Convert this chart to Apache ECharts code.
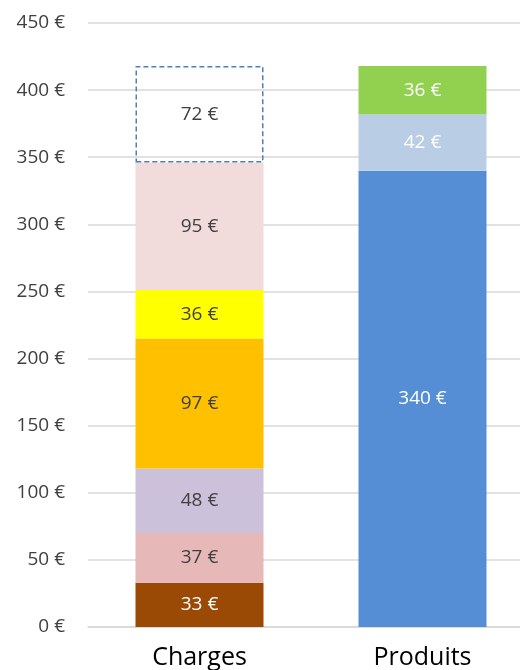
<!DOCTYPE html>
<html>
<head>
<meta charset="utf-8">
<script src="https://cdn.jsdelivr.net/npm/echarts@6/dist/echarts.min.js"></script>
<style>html,body{margin:0;padding:0;background:#fff}#c{width:520px;height:670px}</style>
</head>
<body>
<div id="c"></div>
<script>
const categories = ['Charges', 'Produits'];
const yTicks = [0, 50, 100, 150, 200, 250, 300, 350, 400, 450];
const chargesValues = [33, 37, 48, 97, 36, 95, 72];
const chargesColors = ['#9B4A06', '#E6B9B8', '#CCC1DA', '#FFC000', '#FFFF00', '#F2DCDB', 'rgba(255,255,255,0)'];
const chargesLabelColors = ['#ffffff', '#404040', '#404040', '#404040', '#404040', '#404040', '#404040'];
const produitsValues = [340, 42, 36];
const produitsColors = ['#558ED5', '#B9CDE5', '#92D050'];

const font = "'Open Sans', 'Liberation Sans', sans-serif";
const series = [];
chargesValues.forEach((v, i) => {
  const last = i === chargesValues.length - 1;
  series.push({
    type: 'bar', stack: 'total', barWidth: 128,
    data: [v, '-'],
    itemStyle: last ? { color: chargesColors[i], borderColor: '#4F7FC0', borderWidth: 1.5, borderType: [5, 3] } : { color: chargesColors[i] },
    label: { show: true, position: 'inside', formatter: '{c} €', color: chargesLabelColors[i], fontSize: 19, fontFamily: font },
    emphasis: { disabled: true }
  });
});
produitsValues.forEach((v, i) => {
  series.push({
    type: 'bar', stack: 'total', barWidth: 128,
    data: ['-', v],
    itemStyle: { color: produitsColors[i] },
    label: { show: true, position: 'inside', formatter: '{c} €', color: '#ffffff', fontSize: 19, fontFamily: font },
    emphasis: { disabled: true }
  });
});

const chart = echarts.init(document.getElementById('c'));
chart.setOption({
  animation: false,
  grid: { left: 88, right: -14, top: 23, bottom: 43, containLabel: false, outerBoundsMode: 'none' },
  xAxis: {
    type: 'category', data: categories,
    axisLine: { show: true, lineStyle: { color: '#D9D9D9', width: 1.5 } },
    axisTick: { show: false },
    axisLabel: { color: '#000000', fontSize: 25, fontFamily: font, margin: 18 }
  },
  yAxis: {
    type: 'value', min: yTicks[0], max: yTicks[yTicks.length - 1], interval: 50,
    axisLine: { show: false }, axisTick: { show: false },
    splitLine: { lineStyle: { color: '#D9D9D9', width: 1.5 } },
    axisLabel: { formatter: '{value} €', color: '#404040', fontSize: 19, fontFamily: font, margin: 23 }
  },
  series: series
});
</script>
</body>
</html>
